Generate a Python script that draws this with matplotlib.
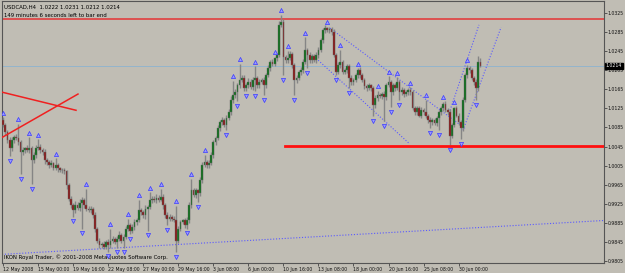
import matplotlib
matplotlib.use("Agg")
import matplotlib.pyplot as plt
import numpy as np

# USDCAD H4 closes, in pips (price * 10000)
closes = [
    10090, 10075, 10058, 10041, 10058, 10064, 10062, 10054, 10033, 10037, 10041, 10037, 10041, 10016, 10027, 10041, 10045, 10037, 10033, 10016,
    10012, 10006, 10010, 10001, 10006, 9999, 9995, 9995, 9993, 9964, 9936, 9922, 9911, 9922, 9917, 9926, 9932, 9922, 9915, 9911,
    9915, 9901, 9873, 9848, 9838, 9840, 9835, 9844, 9838, 9848, 9852, 9844, 9852, 9859, 9848, 9856, 9873, 9880, 9869, 9877,
    9886, 9890, 9911, 9907, 9901, 9915, 9919, 9932, 9936, 9932, 9938, 9934, 9940, 9922, 9901, 9894, 9898, 9894, 9890, 9848,
    9873, 9886, 9890, 9880, 9890, 9922, 9953, 9943, 9953, 9947, 9974, 10006, 10012, 10006, 10010, 10027, 10054, 10062, 10083, 10096,
    10100, 10090, 10104, 10117, 10142, 10152, 10159, 10173, 10184, 10188, 10167, 10173, 10180, 10169, 10184, 10188, 10173, 10180, 10184, 10173,
    10194, 10209, 10222, 10218, 10230, 10237, 10300, 10306, 10232, 10226, 10230, 10239, 10216, 10184, 10188, 10201, 10205, 10222, 10247, 10237,
    10226, 10234, 10226, 10237, 10247, 10268, 10289, 10293, 10289, 10291, 10285, 10237, 10201, 10216, 10222, 10201, 10205, 10213, 10188, 10180,
    10184, 10194, 10205, 10194, 10184, 10171, 10167, 10173, 10167, 10132, 10146, 10152, 10150, 10155, 10148, 10173, 10180, 10159, 10173, 10167,
    10180, 10159, 10163, 10155, 10159, 10163, 10159, 10125, 10117, 10125, 10110, 10121, 10117, 10108, 10100, 10096, 10100, 10094, 10104, 10117,
    10125, 10134, 10121, 10117, 10068, 10090, 10125, 10110, 10096, 10083, 10142, 10194, 10209, 10205, 10188, 10180, 10167, 10222, 10214,
]
first_open = 10100

# shadow lengths above / below the body, pips
wick_hi = [
    6, 5, 4, 6, 8, 5, 7, 30, 5, 6, 4, 8, 23, 5, 6, 7, 15, 5, 4, 6,
    5, 4, 6, 3, 14, 5, 4, 6, 5, 3, 4, 6, 5, 8, 6, 9, 7, 5, 35, 6,
    5, 4, 6, 3, 5, 4, 6, 5, 7, 25, 6, 4, 5, 8, 4, 6, 5, 14, 5, 6,
    8, 5, 23, 6, 5, 7, 4, 17, 6, 5, 8, 6, 17, 5, 4, 6, 5, 4, 6, 30,
    5, 6, 4, 5, 7, 6, 25, 5, 6, 4, 8, 6, 15, 5, 6, 7, 5, 6, 8, 5,
    6, 5, 7, 6, 8, 30, 6, 5, 34, 7, 6, 5, 8, 6, 7, 25, 5, 6, 4, 6,
    5, 6, 4, 7, 3, 5, 8, 15, 6, 5, 15, 6, 5, 4, 6, 5, 7, 6, 27, 5,
    6, 4, 5, 7, 6, 5, 4, 6, 3, 5, 4, 6, 5, 7, 25, 5, 4, 6, 5, 6,
    4, 5, 4, 6, 5, 4, 6, 5, 4, 5, 6, 9, 5, 4, 6, 5, 12, 4, 6, 5,
    10, 4, 6, 5, 4, 5, 6, 5, 6, 4, 5, 6, 4, 25, 5, 6, 4, 5, 6, 5,
    4, 4, 6, 5, 6, 5, 3, 5, 6, 4, 6, 5, 7, 5, 4, 5, 6, 12, 9,
]
wick_lo = [
    5, 6, 5, 16, 6, 5, 4, 6, 46, 5, 6, 4, 5, 50, 6, 5, 4, 6, 5, 7,
    6, 5, 4, 6, 5, 7, 4, 5, 6, 8, 6, 5, 13, 6, 5, 7, 53, 6, 5, 4,
    6, 5, 7, 6, 5, 6, 4, 5, 13, 6, 5, 4, 11, 6, 5, 15, 4, 6, 8, 5,
    6, 5, 4, 6, 5, 7, 46, 5, 6, 4, 5, 6, 4, 7, 6, 14, 5, 6, 4, 25,
    6, 5, 4, 6, 7, 6, 5, 4, 6, 19, 5, 6, 4, 5, 6, 4, 5, 6, 4, 5,
    6, 5, 11, 4, 6, 5, 6, 19, 5, 4, 6, 6, 5, 4, 6, 23, 5, 6, 4, 21,
    5, 4, 6, 5, 4, 6, 5, 4, 38, 6, 5, 4, 6, 32, 5, 4, 6, 5, 4, 28,
    5, 6, 4, 5, 6, 4, 5, 6, 4, 5, 6, 4, 7, 5, 6, 4, 5, 6, 21, 5,
    6, 4, 5, 6, 4, 5, 6, 4, 5, 24, 6, 5, 4, 6, 50, 5, 4, 32, 6, 5,
    4, 17, 5, 6, 4, 5, 6, 4, 5, 6, 4, 5, 6, 4, 5, 13, 6, 4, 5, 25,
    5, 6, 4, 5, 20, 6, 5, 4, 6, 23, 5, 4, 6, 5, 4, 6, 25, 5, 2,
]

# fractal bars (index)
up_frac = [0, 7, 12, 16, 24, 38, 49, 57, 62, 67, 72, 79, 86, 92, 105, 108, 115, 124, 127, 130,
           138, 148, 154, 162, 171, 176, 180, 186, 193, 201, 206, 212]
dn_frac = [3, 8, 13, 32, 36, 48, 52, 55, 58, 66, 75, 79, 84, 89, 102, 107, 111, 115, 119, 128,
           133, 139, 152, 158, 169, 174, 177, 181, 195, 199, 204, 209, 216]

date_labels = ['12 May 2008', '15 May 00:00', '19 May 16:00', '22 May 08:00', '27 May 00:00',
               '29 May 16:00', '3 Jun 08:00', '6 Jun 00:00', '10 Jun 16:00', '13 Jun 08:00',
               '18 Jun 00:00', '20 Jun 16:00', '25 Jun 08:00', '30 Jun 00:00']
price_ticks = [0.9805, 0.9845, 0.9885, 0.9925, 0.9965, 1.0005, 1.0045, 1.0085,
               1.0125, 1.0165, 1.0205, 1.0245, 1.0285, 1.0325]

# drawing objects: (x0, p0, x1, p1)
red_lines = [(-0.5, 1.0159, 33.3, 1.0121), (-0.5, 1.0064, 34.2, 1.0155)]
dotted_lines = [(-0.5, 0.9819, 274.4, 0.9890),
                (149.3, 1.0293, 210.9, 1.0083),
                (142.9, 1.0230, 185.3, 1.0052),
                (204.1, 1.0121, 217.3, 1.0300),
                (210.0, 1.0079, 227.4, 1.0295)]
resistance = 1.0312
support = 1.0047
support_from = 128.7
bid = 1.0214

c = np.array(closes) / 10000.0
o = np.concatenate([[first_open / 10000.0], c[:-1]])
hi = np.maximum(o, c) + np.array(wick_hi) / 10000.0
lo = np.minimum(o, c) - np.array(wick_lo) / 10000.0
idx = np.arange(len(c))

bg = '#c0bdb4'
fs = 3.3
fig = plt.figure(figsize=(6.25, 2.73), dpi=100, facecolor=bg)
ax = fig.add_axes([0.0032, 0.0366, 0.9632, 0.9597], facecolor=bg)
xmax = 274.4
ax.set_xlim(-0.5, xmax)
ax.set_ylim(0.98009, 1.0350)

# horizontal lines
ax.axhline(bid, color='#93b4cc', lw=0.7, zorder=1)
ax.axhline(resistance, color='#e04848', lw=1.3, zorder=1)
ax.plot([support_from, xmax], [support, support], color='#ff1010', lw=2.0, zorder=4)
for x0, p0, x1, p1 in red_lines:
    ax.plot([x0, x1], [p0, p1], color='#f02020', lw=1.1, zorder=4)
for x0, p0, x1, p1 in dotted_lines:
    ax.plot([x0, x1], [p0, p1], color='#5a5aff', lw=0.8, ls=(0, (1, 1.6)), zorder=2)

# candles
ax.vlines(idx, lo, hi, color='#858585', lw=1.0, zorder=3)
bull = c >= o
body_lo = np.minimum(o, c)
body_h = np.maximum(np.abs(c - o), 0.00008)
ax.bar(idx[bull], body_h[bull], bottom=body_lo[bull], width=0.8, color='#0b6e17',
       edgecolor='#6a6a6a', lw=0.3, zorder=3)
ax.bar(idx[~bull], body_h[~bull], bottom=body_lo[~bull], width=0.8, color='#8a1616',
       edgecolor='#6a6a6a', lw=0.3, zorder=3)

# fractals
ax.plot(up_frac, hi[up_frac] + 0.0010, ls='none', marker='^', ms=3.0, mfc='#9a9aff',
        mec='#3a3aff', mew=0.5, zorder=5)
ax.plot(dn_frac, lo[dn_frac] - 0.0010, ls='none', marker='v', ms=3.0, mfc='#9a9aff',
        mec='#3a3aff', mew=0.5, zorder=5)

# axes styling
for s in ['left', 'top', 'right', 'bottom']:
    ax.spines[s].set_color('#555555')
    ax.spines[s].set_linewidth(0.8)
ax.yaxis.tick_right()
ax.set_yticks(price_ticks)
ax.set_yticklabels(['%.4f' % p for p in price_ticks])
ax.set_xticks(np.arange(len(date_labels)) * 16)
ax.set_xticklabels(date_labels, ha='left')
ax.tick_params(axis='both', labelsize=fs, length=2.0, width=0.6, color='#444444',
               labelcolor='#111111', pad=0.8)

# bid price label
ax.text(1.003, bid, '%.4f' % bid, transform=ax.get_yaxis_transform(), fontsize=fs,
        color='white', va='center', ha='left',
        bbox=dict(boxstyle='square,pad=0.15', fc='black', ec='black'))

ax.text(0.004, 0.985, 'USDCAD,H4  1.0222 1.0231 1.0212 1.0214', transform=ax.transAxes,
        fontsize=3.9, va='top', ha='left', color='black')
ax.text(0.004, 0.955, '149 minutes 6 seconds left to bar end', transform=ax.transAxes,
        fontsize=3.9, va='top', ha='left', color='black')
ax.text(0.004, 0.012, 'IKON Royal Trader, \u00a9 2001-2008 MetaQuotes Software Corp.',
        transform=ax.transAxes, fontsize=3.9, va='bottom', ha='left', color='black')

fig.savefig('out.png', dpi=100, facecolor=bg)
